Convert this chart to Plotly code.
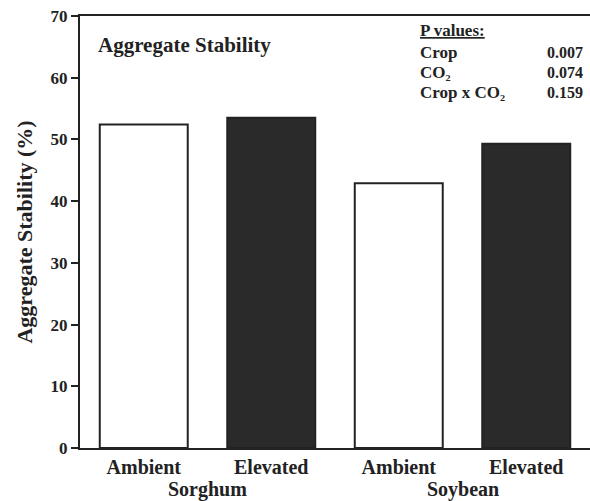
import plotly.graph_objects as go

treatments = ["Ambient", "Elevated", "Ambient", "Elevated"]
crops = ["Sorghum", "Soybean"]
values = [52.4, 53.5, 42.9, 49.3]
fills = ["white", "#2a2a2a", "white", "#2a2a2a"]
p_labels = ["Crop", "CO\u2082", "Crop x CO\u2082"]
p_values = ["0.007", "0.074", "0.159"]
y_ticks = [0, 10, 20, 30, 40, 50, 60, 70]

FONT = "Liberation Serif"
INK = "#222222"

x_pos = list(range(len(values)))

fig = go.Figure()
fig.add_trace(go.Bar(
    x=x_pos, y=values, width=0.69,
    marker=dict(color=fills, line=dict(color=INK, width=2)),
    showlegend=False,
))

fig.update_layout(
    width=590, height=501,
    margin=dict(l=80, r=0, t=16, b=53),
    paper_bgcolor="white", plot_bgcolor="white",
    font=dict(family=FONT, color=INK),
    xaxis=dict(
        range=[-0.5, 3.5], tickmode="array", tickvals=x_pos,
        ticktext=["<b>%s</b>" % t for t in treatments],
        tickfont=dict(size=20, family=FONT, color=INK),
        showgrid=False, zeroline=False, showline=True, linecolor=INK,
        linewidth=2, mirror=True, ticks="", ticklen=0,
    ),
    yaxis=dict(
        range=[0, 70], tickmode="array", tickvals=y_ticks,
        ticktext=["<b>%d</b>" % v for v in y_ticks],
        tickfont=dict(size=17, family=FONT, color=INK),
        showgrid=False, zeroline=False, showline=True, linecolor=INK,
        linewidth=2, ticks="outside", ticklen=7, tickwidth=2, tickcolor=INK,
        title=dict(text="<b>Aggregate Stability (%)</b>",
                   font=dict(size=22, family=FONT, color=INK), standoff=12),
    ),
)


def px_x(px):
    return (px - 80) / 510.0


def px_y(py):
    return (448 - py) / 432.0


for i, c in enumerate(crops):
    fig.add_annotation(x=2 * i + 0.5, xref="x", y=px_y(489), yref="paper",
                       text="<b>%s</b>" % c, showarrow=False,
                       font=dict(size=20, family=FONT, color=INK),
                       xanchor="center", yanchor="middle")

fig.add_annotation(x=px_x(96), xref="paper", y=px_y(45), yref="paper",
                   text="<b>Aggregate Stability</b>",
                   showarrow=False, font=dict(size=21, family=FONT, color=INK),
                   xanchor="left", yanchor="middle")

fig.add_annotation(x=px_x(418), xref="paper", y=px_y(30), yref="paper",
                   text="<b><u>P values:</u></b>", showarrow=False,
                   font=dict(size=17, family=FONT, color=INK),
                   xanchor="left", yanchor="middle")
for j, (lab, val) in enumerate(zip(p_labels, p_values)):
    yy = px_y(52 + j * 20)
    fig.add_annotation(x=px_x(418), xref="paper", y=yy, yref="paper",
                       text="<b>%s</b>" % lab, showarrow=False,
                       font=dict(size=17, family=FONT, color=INK),
                       xanchor="left", yanchor="middle")
    fig.add_annotation(x=px_x(585), xref="paper", y=yy, yref="paper",
                       text="<b>%s</b>" % val, showarrow=False,
                       font=dict(size=16, family=FONT, color=INK),
                       xanchor="right", yanchor="middle")

fig.write_html("out.html", config={"displayModeBar": False},
               post_script="document.body.style.margin='0';document.body.style.overflow='hidden';")
